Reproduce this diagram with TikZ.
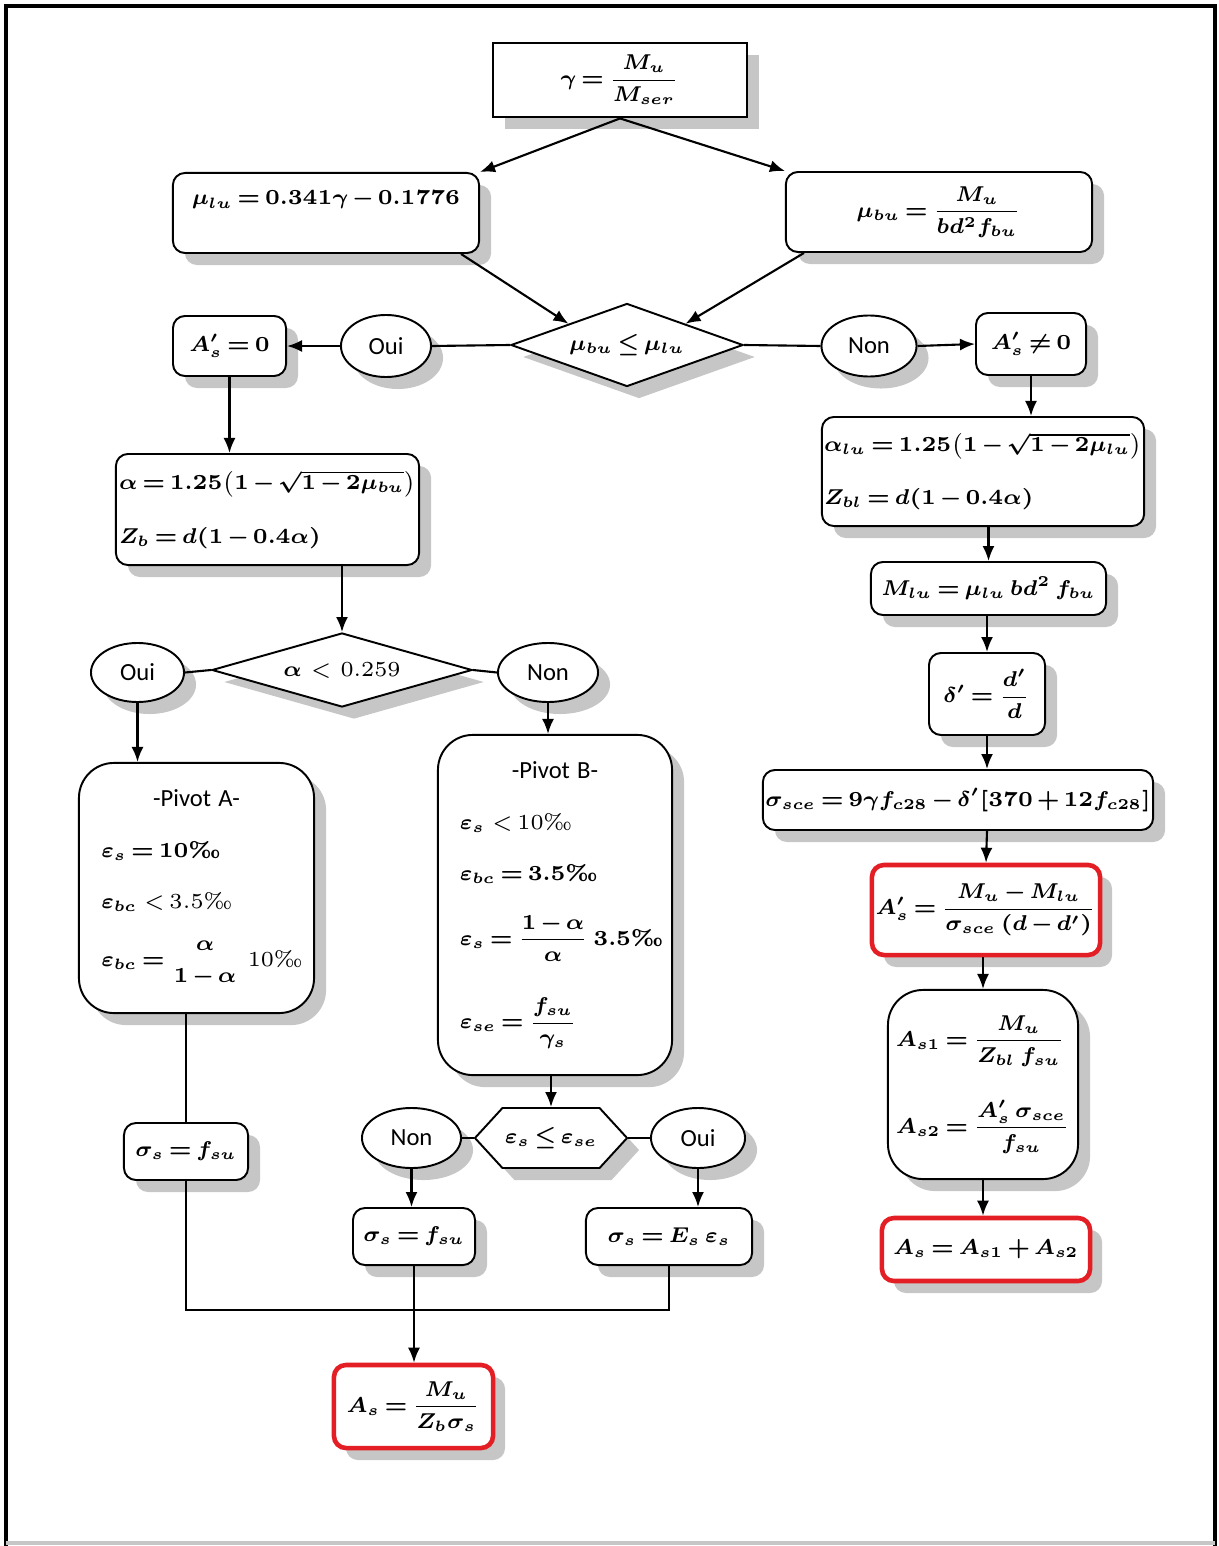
\RequirePackage{fix-cm}
\documentclass[tikz,border=0pt]{standalone}
\usepackage{amsmath,bm}
\usepackage{fontspec}
\newfontfamily\yesfont{Carlito}
\usepackage{tikz}
\usetikzlibrary{arrows.meta,shapes.geometric,shapes.symbols,shadows,calc}
\definecolor{flink}{HTML}{000000}
\definecolor{flred}{HTML}{E31E24}
\definecolor{flshade}{HTML}{C6C6C6}
\newcommand{\fsz}{\fontsize{6.1}{7.4}\selectfont}
\newcommand{\ssz}{\fontsize{7}{9}\selectfont}
\newcommand{\pml}{\text{‰}}
\thickmuskip=3mu plus 2mu
\medmuskip=2.5mu plus 1mu minus 1mu
\tikzset{
  sh/.style={drop shadow={shadow xshift=0.12cm, shadow yshift=-0.12cm, fill=flshade, opacity=1}},
  bx/.style={draw=flink, fill=white, line width=0.55pt, inner sep=0pt, align=center, font=\fsz\boldmath, sh},
  rb/.style={bx, rounded corners=0.12cm},
  big/.style={bx, rounded corners=0.35cm},
  res/.style={rb, draw=flred, line width=1.3pt},
  dec/.style={bx, diamond},
  hexa/.style={bx, signal, signal to=west and east, signal pointer angle=95},
  yn/.style={bx, ellipse, font=\ssz\yesfont},
  arr/.style={-{Latex[length=1.5mm,width=1.2mm]}, line width=0.6pt, draw=flink},
  ln/.style={line width=0.6pt, draw=flink},
}

\begin{document}
\begin{tikzpicture}[x=0.01cm, y=-0.01cm]
  \useasboundingbox (0,0) rectangle (1219,1546);
  \draw[line width=1.1pt] (6,1546) -- (6,6) -- (1215,6) -- (1215,1546);
  \draw[flshade, line width=1pt] (6,1543) -- (1215,1543);

  \node[bx, line width=0.8pt, minimum width=2.54cm, minimum height=0.74cm] (gam) at (620,80) {$\gamma=\dfrac{M_u}{M_{ser}}$};
  \node[rb, anchor=north, minimum width=3.06cm, text height=0.32cm, text depth=0.48cm] (mlu) at (326,172) {$\mu_{lu}=0.341\gamma-0.1776$};
  \node[rb, minimum width=3.06cm, minimum height=0.8cm] (mbu) at (939,212) {$\mu_{bu}=\dfrac{M_u}{bd^2f_{bu}}$};
  \draw[arr] (gam.south) -- (mlu.north east);
  \draw[arr] (gam.south) -- (mbu.north west);

  \node[dec, aspect=2.8, minimum width=2.32cm, minimum height=0.83cm] (cmp) at (627,345) {$\mu_{bu}\le\mu_{lu}$};
  \draw[arr] ($(mlu.south east)+(-19,0)$) -- (cmp.north west);
  \draw[arr] ($(mbu.south west)+(19,0)$) -- (cmp.north east);

  \node[yn, minimum width=0.9cm, minimum height=0.62cm] (oui1) at (386,346) {Oui};
  \node[rb, minimum width=1.13cm, minimum height=0.6cm] (ap0) at (229.5,346) {$A'_s=0$};
  \node[yn, minimum width=0.95cm, minimum height=0.61cm] (non1) at (869,346) {Non};
  \node[rb, minimum width=1.1cm, minimum height=0.62cm] (apn) at (1031,344) {$A'_s\neq0$};
  \draw[ln] (cmp.west) -- (oui1.east);
  \draw[arr] (oui1.west) -- (ap0.east);
  \draw[ln] (cmp.east) -- (non1.west);
  \draw[arr] (non1.east) -- (apn.west);

  % branch A's = 0
  \node[rb, minimum width=3.03cm, minimum height=1.11cm, align=left] (alp) at (267.5,509.5) {$\alpha=1.25\bigl(1-\sqrt{1-2\mu_{bu}}\bigr)$\\[0.28cm]$Z_b=d(1-0.4\alpha)$};
  \draw[arr] (ap0.south) -- (ap0.south |- alp.north);
  \node[dec, aspect=3.5, minimum width=2.6cm, minimum height=0.74cm] (chk) at (342,670) {$\alpha$ {\unboldmath$<$ 0.259}};
  \draw[arr] (chk.north |- alp.south) -- (chk.north);
  \node[yn, minimum width=0.93cm, minimum height=0.59cm] (oui2) at (137.5,672.5) {Oui};
  \node[yn, minimum width=1cm, minimum height=0.59cm] (non2) at (548,672.5) {Non};
  \draw[ln] (chk.west) -- (oui2.east);
  \draw[ln] (chk.east) -- (non2.west);

  \node[big, minimum width=2.35cm, minimum height=2.5cm, text width=1.9cm, align=left] (pva) at (196.5,888)
    {\makebox[\linewidth]{\ssz\yesfont -Pivot A-}\\[0.25cm]
     $\varepsilon_s=10\text{\bfseries ‰}$\\[0.25cm]
     \mbox{$\varepsilon_{bc}$ {\unboldmath$<3.5\pml$}}\\[0.26cm]
     \mbox{$\varepsilon_{bc}=\genfrac{}{}{0pt}{0}{\alpha}{1-\alpha}$ \text{10‰}}};
  \node[big, minimum width=2.34cm, minimum height=3.4cm, text width=1.9cm, align=left] (pvb) at (555,905)
    {\makebox[\linewidth]{\ssz\yesfont -Pivot B-}\\[0.25cm]
     \mbox{$\varepsilon_s$ {\unboldmath$<10\pml$}}\\[0.25cm]
     $\varepsilon_{bc}=3.5\text{\bfseries ‰}$\\[0.28cm]
     \mbox{$\varepsilon_s=\dfrac{1-\alpha}{\alpha}\,3.5\text{\bfseries ‰}$}\\[0.33cm]
     $\varepsilon_{se}=\dfrac{f_{su}}{\gamma_s}$};
  \draw[arr] (oui2.south) -- (oui2.south |- pva.north);
  \draw[arr] (non2.south) -- (non2.south |- pvb.north);

  \node[rb, minimum width=1.24cm, minimum height=0.57cm] (sfa) at (186,1151.5) {$\sigma_s=f_{su}$};
  \draw[ln] (sfa.north |- pva.south) -- (sfa.north);

  \node[hexa, minimum width=1.52cm, minimum height=0.6cm] (hex) at (551,1138) {$\varepsilon_s\le\varepsilon_{se}$};
  \draw[arr] (pvb.south -| hex.north) -- (hex.north);
  \node[yn, minimum width=0.99cm, minimum height=0.6cm] (non3) at (411.5,1138) {Non};
  \node[yn, minimum width=0.94cm, minimum height=0.6cm] (oui3) at (698,1138) {Oui};
  \draw[ln] (hex.west) -- (non3.east);
  \draw[ln] (hex.east) -- (oui3.west);

  \node[rb, minimum width=1.22cm, minimum height=0.57cm] (sfb) at (414,1236.5) {$\sigma_s=f_{su}$};
  \node[rb, minimum width=1.66cm, minimum height=0.57cm] (ses) at (669,1236.5) {$\sigma_s=E_s\,\varepsilon_s$};
  \draw[arr] (non3.south) -- (non3.south |- sfb.north);
  \draw[arr] (oui3.south) -- (oui3.south |- ses.north);

  \node[res, minimum width=1.59cm, minimum height=0.83cm] (asa) at (413.5,1406.5) {$A_s=\dfrac{M_u}{Z_b\sigma_s}$};
  \coordinate (jn) at (414,1310);
  \draw[ln] (sfa.south) |- (jn) -| (ses.south);
  \draw[arr] (sfb.south) -- (sfb.south |- asa.north);

  % branch A's != 0
  \node[rb, minimum width=3.22cm, minimum height=1.09cm, align=left] (alu) at (983,471.5) {$\alpha_{lu}=1.25\bigl(1-\sqrt{1-2\mu_{lu}}\bigr)$\\[0.27cm]$Z_{bl}=d(1-0.4\alpha)$};
  \draw[arr] (apn.south) -- (apn.south |- alu.north);
  \node[rb, minimum width=2.35cm, minimum height=0.53cm] (mlb) at (988.5,588.5) {$M_{lu}=\mu_{lu}\,bd^2\,f_{bu}$};
  \node[rb, minimum width=1.16cm, minimum height=0.82cm] (dlt) at (987,694) {$\delta'=\dfrac{d'}{d}$};
  \node[rb, minimum width=3.9cm, minimum height=0.6cm] (sce) at (958,800) {$\sigma_{sce}=9\gamma f_{c28}-\delta'[370+12f_{c28}]$};
  \node[res, minimum width=2.28cm, minimum height=0.9cm] (asp) at (986,910) {$A'_s=\dfrac{M_u-M_{lu}}{\sigma_{sce}\,(d-d')}$};
  \node[big, minimum width=1.9cm, minimum height=1.89cm, align=left] (as12) at (983,1084.5) {$A_{s1}=\dfrac{M_u}{Z_{bl}\,f_{su}}$\\[0.3cm]$A_{s2}=\dfrac{A'_s\,\sigma_{sce}}{f_{su}}$};
  \node[res, minimum width=2.08cm, minimum height=0.63cm] (ast) at (986,1249.5) {$A_s=A_{s1}+A_{s2}$};
  \draw[arr] (alu.south -| mlb.north) -- (mlb.north);
  \draw[arr] (mlb.south -| dlt.north) -- (dlt.north);
  \draw[arr] (dlt.south) -- (dlt.south |- sce.north);
  \draw[arr] (dlt.south |- sce.south) -- (asp.north);
  \draw[arr] (asp.south -| as12.north) -- (as12.north);
  \draw[arr] (as12.south) -- (as12.south |- ast.north);
\end{tikzpicture}
\end{document}
